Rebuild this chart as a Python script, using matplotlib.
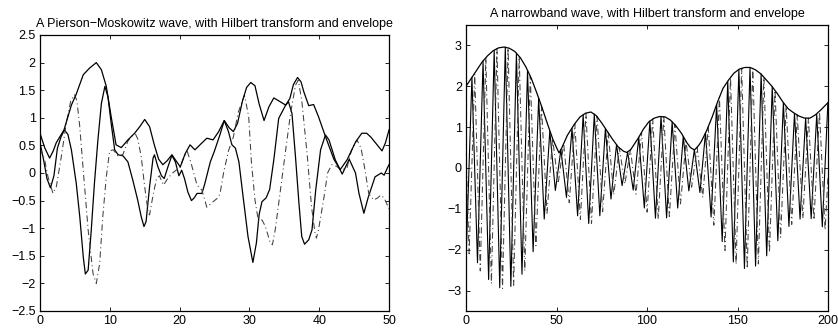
import matplotlib
matplotlib.use("Agg")
import matplotlib.pyplot as plt
from matplotlib.ticker import FixedLocator, FuncFormatter

plt.rcParams['font.family'] = ['Liberation Sans', 'DejaVu Sans']

# ---------------- Left panel: Pierson-Moskowitz wave ----------------
pm_wave_x = [0, 0.5, 1.0, 1.5, 2.0, 2.5, 3.0, 3.5, 4.0, 4.5, 5.2, 5.7, 6.2, 6.5, 6.9, 7.35, 7.8,
             8.3, 8.8, 9.3, 9.74, 10.2, 10.7, 11.2, 11.9, 12.6, 13.3, 14.0, 14.5, 14.9, 15.2,
             15.7, 16.2, 16.4, 16.9, 17.4, 17.8, 18.3, 18.9, 19.4, 19.9, 20.3, 20.7, 21.2, 21.7,
             22.1, 22.5, 23.2, 23.6, 24.4, 25.0, 25.8, 26.4, 27.0, 27.5, 28.0, 28.5, 29.1, 29.8,
             30.5, 31.0, 31.4, 31.8, 32.4, 32.9, 33.5, 34.2, 35.2, 35.6, 36.1, 36.6, 37.1, 37.5,
             37.9, 38.5, 38.97, 39.5, 40.2, 40.9, 41.4, 42.3, 43.3, 44.3, 45.2, 45.7, 46.4, 47.0,
             48.0, 48.9, 49.3, 49.8, 50.0]
pm_wave_y = [0.55, 0.25, -0.1, -0.27, -0.05, 0.45, 0.65, 0.78, 0.7, 0.42, -0.19, -0.79, -1.52, -1.83,
             -1.76, -1.03, -0.19, 0.6, 1.26, 1.57, 1.38, 0.9, 0.42, 0.33, 0.31, 0.2, -0.13, -0.49,
             -0.79, -0.97, -0.88, -0.25, 0.27, 0.33, 0.11, -0.05, -0.1, 0.1, 0.32, 0.2, -0.05, 0.05,
             -0.1, -0.35, -0.5, -0.45, -0.37, -0.37, -0.2, 0.2, 0.4, 0.7, 0.95, 0.75, 0.51, 0.45, 0.2,
             -0.43, -1.15, -1.62, -1.27, -0.75, -0.52, -0.45, -0.3, 0.24, 0.99, 1.23, 1.29, 1.08,
             0.3, -0.55, -1.15, -1.29, -1.21, -1.03, -0.31, 0.42, 0.69, 0.6, 0.24, -0.02, 0.25, 0.0,
             -0.37, -0.73, -0.45, -0.07, 0.0, -0.04, 0.1, 0.15]

pm_hilb_x = [0, 0.67, 1.15, 1.86, 2.34, 3.06, 3.77, 4.4, 4.97, 5.3, 5.7, 6.2, 6.9, 7.6, 8.07, 8.55,
             9.0, 9.5, 9.98, 10.5, 11.2, 11.9, 12.6, 13.3, 13.7, 14.0, 14.5, 15.0, 15.5, 15.7, 16.2,
             16.7, 17.1, 17.7, 18.3, 19.0, 19.5, 20.0, 20.5, 21.1, 21.6, 22.5, 23.2, 23.9, 24.8,
             25.5, 25.8, 26.3, 27.0, 27.7, 28.4, 29.3, 29.9, 30.3, 30.8, 31.3, 31.8, 32.3, 33.0,
             33.3, 33.7, 34.2, 35.2, 35.9, 36.6, 37.0, 37.5, 38.3, 38.9, 39.4, 39.6, 39.9, 40.7,
             41.2, 41.8, 42.5, 43.2, 44.0, 44.6, 45.4, 46.0, 46.5, 47.1, 47.8, 48.4, 48.8, 49.3,
             49.9, 50.0]
pm_hilb_y = [0.45, 0.24, -0.07, -0.37, -0.25, 0.3, 0.9, 1.3, 1.42, 1.3, 0.84, 0.05, -1.03, -1.82,
             -2.0, -1.64, -0.79, -0.07, 0.4, 0.42, 0.3, 0.34, 0.58, 0.69, 0.7, 0.62, 0.3, -0.25,
             -0.72, -0.76, -0.4, -0.1, -0.05, -0.22, -0.1, 0.0, 0.05, 0.08, 0.25, 0.39, 0.2, -0.22,
             -0.31, -0.62, -0.52, -0.45, -0.37, 0.0, 0.4, 0.65, 1.1, 1.41, 1.02, 0.18, -0.49, -0.88,
             -0.85, -0.97, -1.27, -1.3, -1.03, -0.55, 0.42, 1.08, 1.59, 1.68, 1.32, 0.3, -0.61,
             -1.09, -1.18, -1.03, -0.43, 0.0, 0.15, 0.12, 0.05, 0.1, 0.4, 0.6, 0.45, 0.1, -0.37,
             -0.49, -0.45, -0.4, -0.45, -0.62, -0.65]

pm_env_x = [0, 0.7, 1.38, 1.9, 2.34, 3.44, 4.5, 5.2, 6.2, 7.1, 8.07, 8.8, 9.5, 10.2, 10.9, 11.65,
            12.6, 13.56, 14.3, 15.0, 15.7, 16.4, 17.0, 17.6, 18.2, 18.9, 19.5, 20.1, 20.8, 21.5,
            22.2, 23.0, 23.9, 24.8, 25.6, 26.4, 27.1, 27.7, 28.3, 29.0, 29.6, 30.2, 30.8, 31.4,
            32.1, 32.8, 33.5, 34.3, 35.2, 35.8, 36.3, 36.9, 37.4, 37.8, 38.5, 39.2, 39.9, 40.9,
            42.1, 43.0, 44.0, 45.2, 46.1, 46.8, 47.4, 48.3, 49.0, 49.5, 50.0]
pm_env_y = [0.72, 0.45, 0.27, 0.4, 0.55, 0.78, 1.23, 1.43, 1.78, 1.9, 2.0, 1.87, 1.57, 1.02, 0.51,
            0.46, 0.6, 0.72, 0.84, 0.97, 0.84, 0.5, 0.25, 0.15, 0.22, 0.33, 0.22, 0.11, 0.35, 0.51,
            0.42, 0.52, 0.63, 0.6, 0.75, 0.95, 0.82, 0.75, 0.9, 1.3, 1.55, 1.64, 1.58, 1.25, 0.95,
            1.2, 1.36, 1.3, 1.23, 1.35, 1.6, 1.73, 1.65, 1.47, 1.22, 1.24, 1.02, 0.66, 0.25, 0.06,
            0.24, 0.56, 0.72, 0.72, 0.65, 0.51, 0.4, 0.55, 0.78]

pm_xticks = [0, 10, 20, 30, 40, 50]
pm_yticks = [-2.5, -2, -1.5, -1, -0.5, 0, 0.5, 1, 1.5, 2, 2.5]

# ---------------- Right panel: narrowband wave ----------------
nb_wave_x = [0, 0.19, 3.27, 6.34, 9.41, 12.49, 15.56, 18.63, 21.7, 24.78, 27.85, 30.92, 33.99,
             37.07, 40.14, 43.21, 46.28, 49.36, 52.43, 55.5, 58.57, 61.65, 64.72, 67.79, 70.87,
             73.94, 77.01, 80.08, 83.15, 86.23, 89.3, 92.37, 95.44, 98.52, 101.59, 104.66, 107.74,
             110.81, 113.88, 116.95, 120.02, 123.1, 126.17, 129.24, 132.31, 135.39, 138.46, 141.53,
             144.6, 147.68, 150.75, 153.82, 156.89, 159.97, 163.04, 166.11, 169.18, 172.26, 175.33,
             178.4, 181.47, 184.55, 187.62, 190.69, 193.76, 196.84, 199.91]
nb_wave_y = [-1.99, -2.01, 2.22, -2.32, 2.62, -2.73, 2.88, -2.93, 2.96, -2.9, 2.81, -2.6, 2.39,
             -2.05, 1.71, -1.25, 0.9, -0.55, 0.45, -0.72, 0.97, -1.17, 1.3, -1.36, 1.32, -1.17,
             0.97, -0.76, 0.57, -0.43, 0.39, -0.54, 0.75, -0.98, 1.15, -1.23, 1.26, -1.22, 1.13,
             -0.98, 0.77, -0.56, 0.45, -0.6, 0.86, -1.2, 1.55, -1.8, 2.12, -2.3, 2.41, -2.46, 2.46,
             -2.4, 2.3, -2.15, 1.99, -1.78, 1.6, -1.43, 1.34, -1.25, 1.22, -1.24, 1.31, -1.44, 1.59]

nb_hilb_x = [0, 1.73, 4.81, 7.88, 10.95, 14.03, 17.1, 20.17, 23.24, 26.32, 29.39, 32.46, 35.53,
             38.61, 41.68, 44.75, 47.82, 50.9, 53.97, 57.04, 60.11, 63.19, 66.26, 69.33, 72.41,
             75.48, 78.55, 81.62, 84.69, 87.77, 90.84, 93.91, 96.98, 100.06, 103.13, 106.2, 109.28,
             112.35, 115.42, 118.49, 121.56, 124.64, 127.71, 130.78, 133.85, 136.93, 140.0, 143.07,
             146.14, 149.22, 152.29, 155.36, 158.43, 161.51, 164.58, 167.65, 170.72, 173.8, 176.87,
             179.94, 183.01, 186.09, 189.16, 192.23, 195.3, 198.38, 200.0]
nb_hilb_y = [0.35, -2.1, 2.3, -2.52, 2.7, -2.83, 2.92, -2.95, 2.94, -2.87, 2.73, -2.52, 2.25, -1.9,
             1.52, -1.11, 0.72, -0.38, 0.6, -0.85, 1.08, -1.26, 1.34, -1.36, 1.26, -1.07, 0.87,
             -0.66, 0.49, -0.39, 0.45, -0.64, 0.87, -1.08, 1.2, -1.25, 1.25, -1.19, 1.06, -0.88,
             0.65, -0.47, 0.5, -0.72, 1.01, -1.4, 1.73, -2.02, 2.21, -2.36, 2.44, -2.46, 2.44, -2.35,
             2.22, -2.07, 1.9, -1.7, 1.52, -1.38, 1.3, -1.23, 1.22, -1.27, 1.37, -1.52, -0.2]

nb_env_x = [0, 3, 6, 9, 12, 15, 18, 21, 24, 27, 30, 33, 36, 39, 42, 45, 48, 50, 51.4, 53, 56, 60,
            63, 66, 69, 72, 75, 78, 81, 84, 87, 88.8, 91, 95, 98, 101, 104, 107, 110, 113, 116,
            119, 122, 124, 126.2, 128.5, 130, 133, 136, 139, 142, 145, 148, 151, 154, 157, 160,
            163, 166, 169, 172, 175, 178, 181, 184, 187, 190, 193, 196, 200]
nb_env_y = [2.0, 2.2, 2.4, 2.6, 2.75, 2.87, 2.94, 2.96, 2.93, 2.85, 2.7, 2.48, 2.2, 1.85, 1.48,
            1.08, 0.7, 0.5, 0.37, 0.5, 0.8, 1.08, 1.25, 1.34, 1.37, 1.28, 1.1, 0.9, 0.7, 0.52,
            0.41, 0.38, 0.45, 0.72, 0.95, 1.13, 1.22, 1.26, 1.25, 1.17, 1.03, 0.85, 0.62, 0.5,
            0.44, 0.55, 0.65, 0.92, 1.25, 1.62, 1.95, 2.15, 2.32, 2.42, 2.46, 2.46, 2.4, 2.3,
            2.15, 2.0, 1.82, 1.62, 1.45, 1.35, 1.27, 1.22, 1.22, 1.3, 1.42, 1.6]

nb_xticks = [0, 50, 100, 150, 200]
nb_yticks = [-3, -2, -1, 0, 1, 2, 3]

titles = ["A Pierson\u2212Moskowitz wave, with Hilbert transform and envelope",
          "A narrowband wave, with Hilbert transform and envelope"]

# ---------------- Drawing ----------------
fig = plt.figure(figsize=(8.38, 3.33), dpi=100)
ax1 = fig.add_axes([0.0477, 0.0661, 0.4165, 0.8288])
ax2 = fig.add_axes([0.5561, 0.0661, 0.4320, 0.8589])

fmt = FuncFormatter(lambda v, p: ('%g' % v).replace('-', '\u2212'))

def style(ax, xlim, ylim, xt, yt, title):
    ax.set_xlim(*xlim)
    ax.set_ylim(*ylim)
    ax.xaxis.set_major_locator(FixedLocator(xt))
    ax.yaxis.set_major_locator(FixedLocator(yt))
    ax.xaxis.set_major_formatter(fmt)
    ax.yaxis.set_major_formatter(fmt)
    ax.tick_params(direction='in', length=3, width=0.6, top=True, right=True,
                   labelsize=9, pad=3, colors='black')
    for s in ax.spines.values():
        s.set_linewidth(0.9)
        s.set_color('black')
    ax.set_title(title, fontsize=9, pad=6)

dash_style = dict(color='0.25', lw=0.75, linestyle=(0, (6, 3, 1, 3)))

ax1.plot(pm_wave_x, pm_wave_y, color='black', lw=0.9)
ax1.plot(pm_hilb_x, pm_hilb_y, **dash_style)
ax1.plot(pm_env_x, pm_env_y, color='black', lw=0.9)
style(ax1, (0, 50), (-2.5, 2.5), pm_xticks, pm_yticks, titles[0])

ax2.plot(nb_wave_x, nb_wave_y, color='black', lw=0.8)
ax2.plot(nb_hilb_x, nb_hilb_y, **dash_style)
ax2.plot(nb_env_x, nb_env_y, color='black', lw=0.9)
style(ax2, (0, 200), (-3.5, 3.5), nb_xticks, nb_yticks, titles[1])

fig.savefig('out.png', dpi=100)
